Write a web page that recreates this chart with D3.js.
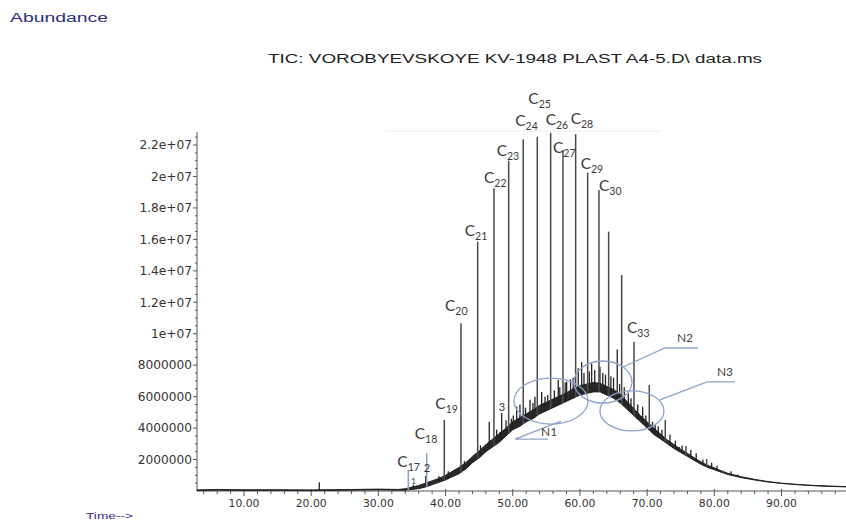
<!DOCTYPE html>
<html><head><meta charset="utf-8">
<script src="https://cdn.jsdelivr.net/npm/d3@7"></script>
<style>body{margin:0;background:#fff;overflow:hidden}</style>
</head><body>
<svg id="c" width="846" height="521"></svg>
<script>
// ---------------- DATA ----------------
// n-alkane peaks (retention time, min; abundance in units of 1e6)
const alkaneLabels  = ["17","18","19","20","21","22","23","24","25","26","27","28","29","30","31","32","33","34","35","36","37","38"];
const alkaneTimes   = [34.45,37.19,39.81,42.29,44.78,47.20,49.39,51.56,53.65,55.64,57.47,59.36,61.15,62.83,64.27,66.21,68.04,70.32,72.70,75.78,78.86,81.29];
const alkaneHeights = [1.34,2.40,4.51,10.66,15.85,19.25,21.0,22.36,22.53,22.78,21.68,22.68,20.24,19.14,16.49,13.73,9.49,6.74,4.51,2.86,2.03,1.29];
const labeledAlkanes = ["17","18","19","20","21","22","23","24","25","26","27","28","29","30","33"];
// other resolved peaks
const minorTimes   = [21.2,35.19,37.05,39.0,40.4,41.15,42.8,43.38,44.03,45.2,45.86,46.5,47.6,48.1,48.35,49.0,49.8,50.08,50.58,51.07,51.9,52.56,53.0,53.3,54.3,54.8,55.2,56.2,56.77,57.0,57.8,58.02,58.6,59.0,59.75,60.25,60.6,61.4,61.74,62.2,62.98,63.4,63.8,64.6,65.0,65.55,65.9,66.6,67.2,67.6,68.6,69.33,69.8,70.8,71.2,71.66,72.2,73.4,74.2,74.78,75.2,76.5,77.3,78.3,79.6,80.4,82.5,83.5];
const minorHeights = [0.55,0.40,0.95,0.95,1.25,1.00,1.90,1.86,1.97,2.90,2.70,4.40,3.90,3.77,4.96,4.50,4.60,4.80,5.36,5.50,5.30,5.80,5.60,6.00,6.30,6.00,6.10,6.40,7.05,6.60,6.90,6.95,7.10,7.20,7.80,8.20,7.50,7.60,8.10,7.70,7.90,7.50,7.40,7.30,7.20,9.00,6.80,6.60,6.20,5.90,5.50,5.36,4.80,4.40,4.20,4.10,3.90,3.60,3.20,2.80,2.90,2.60,2.40,2.00,1.80,1.60,1.25,1.05];
const minorMarks = ["1","2","3"];
const minorMarkTimes = [35.19,37.05,48.35];
// unresolved complex mixture (hump): lower / upper edge of the noisy band
const bandTimes = [3,6,10,15,20,25,30,33,34,35,36,37,38,39,40,41,42,43,44,45,46,47,48,49,50,51,52,53,54,55,56,57,58,59,60,61,62,63,64,65,66,67,68,69,70,71,72,73,74,75,76,77,78,79,80,81,82,84,86,88,90,93,96,99.6];
const bandLower = [0.03,0.05,0.04,0.04,0.03,0.05,0.07,0.05,0.05,0.10,0.15,0.25,0.40,0.55,0.70,0.90,1.10,1.40,1.80,2.10,2.50,2.80,3.10,3.50,3.90,4.10,4.40,4.60,4.90,5.10,5.30,5.50,5.70,5.90,6.10,6.20,6.30,6.30,6.10,5.90,5.60,5.20,4.80,4.40,4.00,3.60,3.30,3.00,2.70,2.45,2.20,1.95,1.70,1.50,1.35,1.20,1.05,0.85,0.70,0.57,0.48,0.38,0.31,0.26];
const bandUpper = [0.07,0.10,0.08,0.08,0.07,0.09,0.12,0.10,0.15,0.25,0.35,0.50,0.65,0.80,1.00,1.25,1.50,1.80,2.20,2.55,2.95,3.30,3.65,4.00,4.40,4.65,4.90,5.15,5.45,5.65,5.85,6.05,6.25,6.50,6.70,6.80,6.90,6.85,6.65,6.45,6.15,5.70,5.25,4.80,4.40,4.00,3.62,3.25,2.95,2.66,2.40,2.12,1.86,1.63,1.48,1.29,1.13,0.91,0.74,0.60,0.50,0.40,0.33,0.28];
// highlighted zones
const zoneLabels = ["N1","N2","N3"];
const zoneTimes  = [55.69,63.42,67.74];
const zoneAbund  = [5.72,6.93,5.09];
// axes
const xTickValues = [10,20,30,40,50,60,70,80,90];
const xTickLabels = ["10.00","20.00","30.00","40.00","50.00","60.00","70.00","80.00","90.00"];
const yTickValues = [2,4,6,8,10,12,14,16,18,20,22];
const yTickLabels = ["2000000","4000000","6000000","8000000","1e+07","1.2e+07","1.4e+07","1.6e+07","1.8e+07","2e+07","2.2e+07"];
const titleText = "TIC: VOROBYEVSKOYE KV-1948 PLAST A4-5.D\\ data.ms";

// ---------------- LAYOUT ----------------
const svg = d3.select("#c");
const x = d3.scaleLinear().domain([3, 99.6]).range([197, 846]);
const y = d3.scaleLinear().domain([0, 22]).range([491, 145]);
const lowerAt = d3.scaleLinear().domain(bandTimes).range(bandLower).clamp(true);

const labelOffsets = {"17":[-11,-3],"18":[-12,-14],"19":[-9,-11],"20":[-16,-12],"21":[-13,-6],"22":[-10,-5],
  "23":[-12,-5],"24":[-8,-13],"25":[-9,-33],"26":[-5,-8],"27":[-10,3],"28":[-5,-10],"29":[-7,-4],"30":[0,1],"33":[-7,-9]};
const markOffsets = [[-2,-1],[-2,-4],[-3,-2]];
const zoneShape = [
  {rx:37, ry:23, lead:[[10,20],[-36,38],[-3,38]], lab:[-10,35]},
  {rx:29, ry:21, lead:[[20,-15],[62,-34],[95,-34]], lab:[74,-40]},
  {rx:32, ry:20, lead:[[28,-11],[75,-29],[103,-29]], lab:[85,-35]}
];

// header texts
svg.append("text").attr("x",10).attr("y",22).attr("textLength",98).attr("lengthAdjust","spacingAndGlyphs")
  .attr("font-family","Liberation Sans, Arial, sans-serif").attr("font-size",12).attr("fill","#2b2f86").text("Abundance");
svg.append("text").attr("x",268).attr("y",63).attr("textLength",494).attr("lengthAdjust","spacingAndGlyphs")
  .attr("font-family","Liberation Sans, Arial, sans-serif").attr("font-size",12.5).attr("fill","#222").text(titleText);
svg.append("text").attr("x",86).attr("y",518.5).attr("textLength",47).attr("lengthAdjust","spacingAndGlyphs")
  .attr("font-family","Liberation Sans, Arial, sans-serif").attr("font-size",9.5).attr("fill","#2b2f86").text("Time-->");

// faint frame remnant
svg.append("line").attr("x1",385).attr("x2",660).attr("y1",131).attr("y2",131).attr("stroke","#ececec").attr("stroke-width",1);

// axes
const axisCol = "#555";
const gx = svg.append("g");
gx.append("line").attr("x1",197).attr("x2",846).attr("y1",491).attr("y2",491).attr("stroke",axisCol);
d3.range(4, 100, 2).forEach(t => {
  const major = t % 10 === 0;
  gx.append("line").attr("x1",x(t)).attr("x2",x(t)).attr("y1",major?489:491).attr("y2",major?496:494)
    .attr("stroke",axisCol).attr("stroke-width",1);
});
gx.selectAll("text.xt").data(xTickValues).join("text").attr("class","xt")
  .attr("x",d=>x(d)).attr("y",507).attr("text-anchor","middle")
  .attr("font-family","DejaVu Sans, sans-serif").attr("font-size",10.8).attr("fill","#333")
  .text((d,i)=>xTickLabels[i]);

const gy = svg.append("g");
gy.append("line").attr("x1",197).attr("x2",197).attr("y1",132).attr("y2",491).attr("stroke",axisCol);
d3.range(0.5, 22.9, 0.5).forEach(v => {
  const major = Math.abs(v/2 - Math.round(v/2)) < 1e-6;
  gy.append("line").attr("x1",major?193:195).attr("x2",197).attr("y1",y(v)).attr("y2",y(v)).attr("stroke",axisCol);
});
gy.selectAll("text.yt").data(yTickValues).join("text").attr("class","yt")
  .attr("x",192).attr("y",d=>y(d)+4.3).attr("text-anchor","end")
  .attr("font-family","DejaVu Sans, sans-serif").attr("font-size",12.2).attr("fill","#333")
  .text((d,i)=>yTickLabels[i]);

// hump band
const band = bandTimes.map((t,i)=>({t, lo:bandLower[i], hi:bandUpper[i]}));
svg.append("path").datum(band)
  .attr("d", d3.area().x(d=>x(d.t)).y0(d=>y(d.lo)).y1(d=>y(d.hi)).curve(d3.curveLinear))
  .attr("fill","#2a2a2a").attr("stroke","#1a1a1a").attr("stroke-width",0.9);

// minor peaks
svg.selectAll("line.mn").data(minorTimes).join("line").attr("class","mn")
  .attr("x1",d=>x(d)).attr("x2",d=>x(d))
  .attr("y1",d=>y(lowerAt(d))).attr("y2",(d,i)=>y(minorHeights[i]))
  .attr("stroke","#222").attr("stroke-width",1.3);

// alkane peaks
svg.selectAll("line.alk").data(alkaneTimes).join("line").attr("class","alk")
  .attr("x1",d=>x(d)).attr("x2",d=>x(d))
  .attr("y1",d=>y(lowerAt(d))).attr("y2",(d,i)=>y(alkaneHeights[i]))
  .attr("stroke",(d,i)=> (alkaneLabels[i]==="17"||alkaneLabels[i]==="18") ? "#8ea2c6" : "#4a4a4a")
  .attr("stroke-width",1.5);

// alkane labels
const lab = labeledAlkanes.map(n => { const i = alkaneLabels.indexOf(n); return {n, t:alkaneTimes[i], v:alkaneHeights[i]}; });
const lt = svg.selectAll("text.cl").data(lab).join("text").attr("class","cl")
  .attr("x",d=>x(d.t)+labelOffsets[d.n][0]).attr("y",d=>y(d.v)+labelOffsets[d.n][1])
  .attr("font-family","Lato, 'Open Sans', sans-serif").attr("font-size",15.5).attr("fill","#3a3a3a");
lt.append("tspan").text("C");
lt.append("tspan").attr("dy",4).attr("font-size",10.5).text(d=>d.n);

// small numbered marks
svg.selectAll("text.mk").data(minorMarks).join("text").attr("class","mk")
  .attr("x",(d,i)=>x(minorMarkTimes[i])+markOffsets[i][0])
  .attr("y",(d,i)=>y(minorHeights[minorTimes.indexOf(minorMarkTimes[i])])+markOffsets[i][1])
  .attr("font-family","Lato, 'Open Sans', sans-serif").attr("font-size",(d,i)=>i===0?8:11).attr("fill","#333")
  .text(d=>d);

// zones
const zc = "#8ea3c8";
zoneLabels.forEach((n,i) => {
  const cx = x(zoneTimes[i]), cy = y(zoneAbund[i]), s = zoneShape[i];
  svg.append("ellipse").attr("cx",cx).attr("cy",cy).attr("rx",s.rx).attr("ry",s.ry)
    .attr("fill","none").attr("stroke",zc).attr("stroke-width",1.3);
  svg.append("path").attr("d", d3.line()(s.lead.map(p=>[cx+p[0], cy+p[1]])))
    .attr("fill","none").attr("stroke",zc).attr("stroke-width",1.3);
  svg.append("text").attr("x",cx+s.lab[0]).attr("y",cy+s.lab[1])
    .attr("font-family","Lato, 'Open Sans', sans-serif").attr("font-size",12).attr("fill","#444").text(n);
});
</script>
</body></html>
